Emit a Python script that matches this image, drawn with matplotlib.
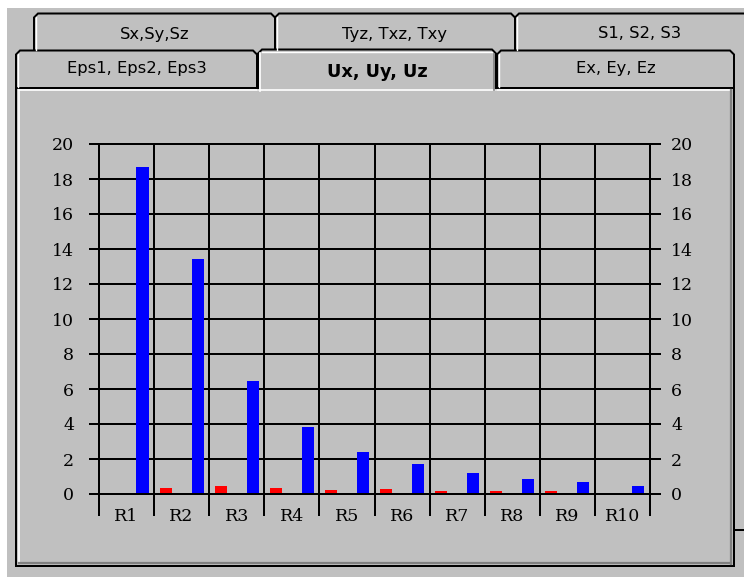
import matplotlib
matplotlib.use("Agg")
import matplotlib.pyplot as plt
from matplotlib.patches import Polygon, Rectangle

# Chart data
categories = ["R1", "R2", "R3", "R4", "R5", "R6", "R7", "R8", "R9", "R10"]
ux = [0.0, 0.34, 0.46, 0.34, 0.25, 0.27, 0.15, 0.15, 0.15, 0.0]
uz = [18.7, 13.45, 6.45, 3.85, 2.42, 1.70, 1.18, 0.86, 0.67, 0.44]
y_ticks = [0, 2, 4, 6, 8, 10, 12, 14, 16, 18, 20]

# Tab captions
tabs_back = ["Sx,Sy,Sz", "Tyz, Txz, Txy", "S1, S2, S3"]
tabs_front = ["Eps1, Eps2, Eps3", "Ux, Uy, Uz", "Ex, Ey, Ez"]
selected = 1

GRAY = "#C0C0C0"
SHADOW = "#808080"
W, H = 744, 577
LW = 1.44  # ~2px

fig = plt.figure(figsize=(W / 100, H / 100), dpi=100, facecolor="white")

# Dialog chrome drawn in pixel coordinates
frame = fig.add_axes([0, 0, 1, 1])
frame.set_xlim(0, W)
frame.set_ylim(H, 0)
frame.axis("off")
frame.add_patch(Rectangle((7, 8), W, H, facecolor=GRAY, edgecolor="none"))


def tab_shape(x0, x1, y0, y1, c=4, **kw):
    pts = [(x0, y1), (x0, y0 + c), (x0 + c, y0), (x1 - c, y0), (x1, y0 + c), (x1, y1)]
    return Polygon(pts, closed=False, facecolor=GRAY, edgecolor="black",
                   linewidth=LW, joinstyle="miter", **kw)


back_x = [(34, 275), (275, 515), (515, 765)]
front_x = [(16, 257), (258, 496), (497, 734)]

for (x0, x1), label in zip(back_x, tabs_back):
    frame.add_patch(tab_shape(x0, x1, 13.5, 51))
    frame.plot([x0 + 2, x0 + 2], [17, 50], color="white", lw=1.0)
    frame.text((x0 + x1) / 2, 34, label, ha="center", va="center",
               fontsize=11.8, family="DejaVu Sans")

for i, ((x0, x1), label) in enumerate(zip(front_x, tabs_front)):
    if i == selected:
        continue
    frame.add_patch(tab_shape(x0, x1, 50.5, 88))
    frame.plot([x0 + 2, x0 + 2], [54, 87], color="white", lw=1.0)
    frame.text((x0 + x1) / 2, 69, label, ha="center", va="center",
               fontsize=11.8, family="DejaVu Sans")

# Panel
frame.add_patch(Rectangle((16, 88), 718, 478, facecolor=GRAY,
                          edgecolor="black", linewidth=LW))
frame.plot([18.5, 18.5], [90, 563], color="white", lw=1.2)
frame.plot([18.5, 731], [89.8, 89.8], color="white", lw=1.2)
frame.plot([731, 731], [90, 563.5], color=SHADOW, lw=1.6)
frame.plot([19, 731], [563.3, 563.3], color=SHADOW, lw=1.6)
frame.plot([735, W], [530, 530], color="black", lw=LW)

# Selected tab on top of the panel border
x0, x1 = front_x[selected]
frame.add_patch(tab_shape(x0, x1, 49.5, 90.5))
frame.plot([x0 + 2, x0 + 2], [53, 91], color="white", lw=1.2)
frame.plot([x0 + 4, x1 - 4], [51.5, 51.5], color="white", lw=1.0)
frame.plot([x1 - 2.5, x1 - 2.5], [54, 90], color=SHADOW, lw=1.2)
frame.text((x0 + x1) / 2, 72, tabs_front[selected], ha="center", va="center",
           fontsize=12.8, fontweight="bold", family="DejaVu Sans")

# Chart area
ax = fig.add_axes([99 / W, (H - 494) / H, 551 / W, 350 / H])
ax.set_facecolor("none")
ax.set_xlim(0, 10)
ax.set_ylim(0, 20)
ax.set_axisbelow(True)

pos = [i + 0.5 for i in range(len(categories))]
ax.bar([p - 0.29 for p in pos], ux, width=0.22, color="#FF0000", zorder=2)
ax.bar([p + 0.29 for p in pos], uz, width=0.22, color="#0000FF", zorder=2)

for s in ax.spines.values():
    s.set_color("black")
    s.set_linewidth(LW)

ax.set_yticks(y_ticks)
ax.set_yticklabels([str(v) for v in y_ticks], family="DejaVu Serif", fontsize=12.5)
ax.tick_params(axis="y", length=7, width=LW, pad=10.8, color="black",
               left=True, right=True, labelleft=True, labelright=False)

ax.set_xticks(pos)
ax.set_xticklabels(categories, family="DejaVu Serif", fontsize=12.5)
ax.set_xticks(range(0, 11), minor=True)
ax.tick_params(axis="x", which="major", length=0, pad=10)
ax.tick_params(axis="x", which="minor", length=16, width=LW, color="black")

ax.grid(True, axis="y", which="major", color="black", linewidth=LW)
ax.grid(True, axis="x", which="minor", color="black", linewidth=LW)

# Right-hand value labels
ax2 = ax.twinx()
ax2.set_ylim(0, 20)
ax2.set_yticks(y_ticks)
ax2.set_yticklabels([str(v) for v in y_ticks], family="DejaVu Serif", fontsize=12.5)
ax2.tick_params(axis="y", length=8, width=LW, pad=7.2, color="black")
for s in ax2.spines.values():
    s.set_visible(False)

plt.savefig("out.png", dpi=100, facecolor=fig.get_facecolor())
